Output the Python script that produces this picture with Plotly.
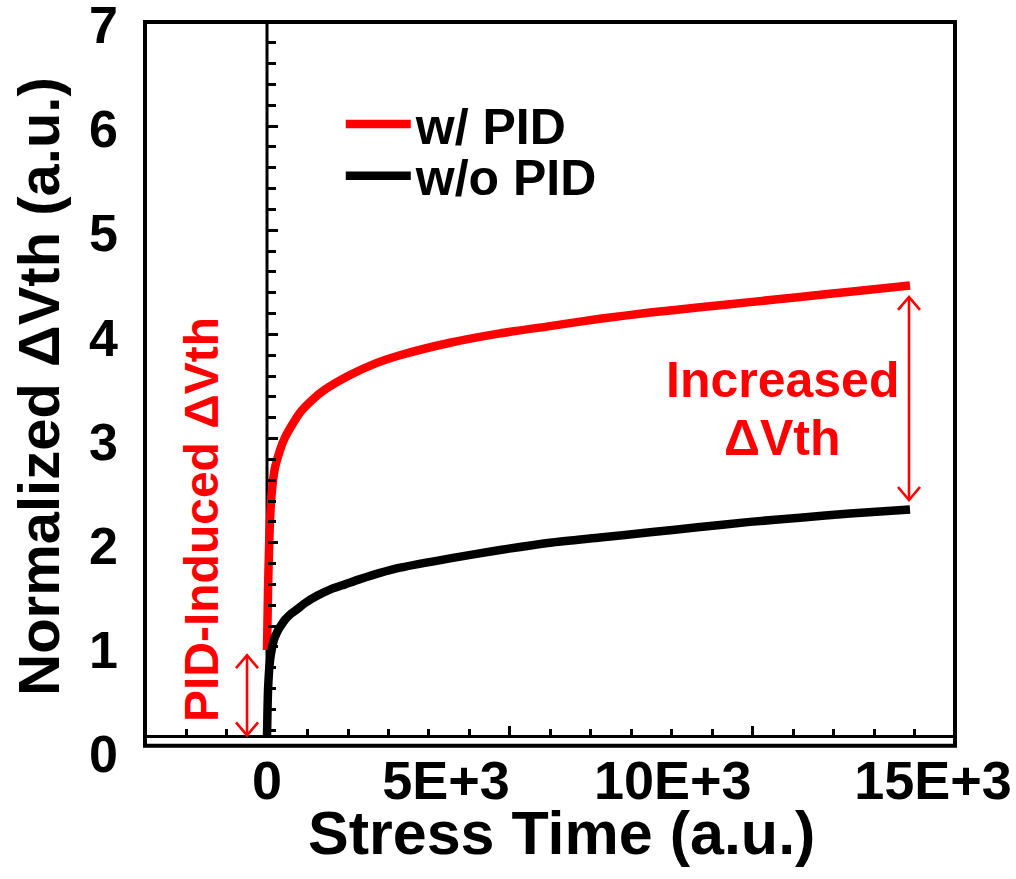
import plotly.graph_objects as go

# ---------------- data ----------------
SERIES_NAMES = ["w/ PID", "w/o PID"]
X_RED = [0, 23, 45, 68, 113, 180, 293, 405, 563, 743, 1014, 1306, 1869, 2432, 2995,
         4122, 5248, 6374, 7500, 8626, 9752, 10878, 12005, 13131, 14482]
Y_RED = [0.97, 1.55, 1.93, 2.22, 2.51, 2.72, 2.89, 3.01, 3.13, 3.25, 3.37, 3.47, 3.61, 3.72, 3.80,
         3.92, 4.01, 4.08, 4.15, 4.21, 4.26, 4.31, 4.36, 4.41, 4.47]
X_BLACK = [0, 11, 23, 45, 68, 113, 158, 225, 293, 405, 518, 676, 856, 1126, 1419, 1757, 2095,
           2545, 2995, 4122, 5248, 6374, 7500, 8626, 9752, 10878, 12005, 13131, 14482]
Y_BLACK = [0.14, 0.39, 0.59, 0.76, 0.87, 0.99, 1.07, 1.14, 1.19, 1.26, 1.31, 1.36, 1.42, 1.49, 1.55,
           1.60, 1.65, 1.71, 1.76, 1.85, 1.93, 2.00, 2.05, 2.10, 2.15, 2.20, 2.24, 2.28, 2.32]

Y_TICKS = [0, 1, 2, 3, 4, 5, 6, 7]
X_TICK_TEXT = ["0", "5E+3", "10E+3", "15E+3"]
X_TICK_POS = [0, 4030, 9140, 15000]   # where the reference prints its labels

X_RANGE = [-2748, 15495]
Y_RANGE = [0, 7]
FRAME_BOTTOM = 0.05      # y value of the frame's bottom edge
BASELINE = 0.14          # y value of the inner horizontal axis line
X_MINOR = 912
X_MAJOR = 5472
Y_MINOR = 0.2

# annotation arrows (data coords)
ARROW_R = dict(x=14459, y0=2.41, y1=4.36)
ARROW_L = dict(x=-450, y0=0.15, y1=0.92)

RED = "#FF0000"
FONT = "Liberation Sans, Arial, sans-serif"

fig = go.Figure()
fig.add_trace(go.Scatter(x=X_RED, y=Y_RED, mode="lines", name=SERIES_NAMES[0],
                         line=dict(color=RED, width=8.5, shape="spline", smoothing=0.6),
                         legend="legend"))
fig.add_trace(go.Scatter(x=X_BLACK, y=Y_BLACK, mode="lines", name=SERIES_NAMES[1],
                         line=dict(color="black", width=8.5, shape="spline", smoothing=0.6),
                         legend="legend2"))
# empty traces so the inner (crossing) axes get drawn
fig.add_trace(go.Scatter(x=[None], y=[None], xaxis="x2", yaxis="y", showlegend=False, hoverinfo="skip"))
fig.add_trace(go.Scatter(x=[None], y=[None], xaxis="x", yaxis="y2", showlegend=False, hoverinfo="skip"))

shapes = []
# outer frame
shapes.append(dict(type="rect", xref="paper", yref="paper", x0=0, x1=1,
                   y0=FRAME_BOTTOM / Y_RANGE[1], y1=1,
                   line=dict(color="black", width=4), layer="above"))
# inner vertical axis line at x = 0
shapes.append(dict(type="line", xref="x", yref="y", x0=0, x1=0, y0=BASELINE, y1=Y_RANGE[1],
                   line=dict(color="black", width=3), layer="below"))

def arrow(a):
    out = [dict(type="line", xref="x", yref="y", x0=a["x"], x1=a["x"], y0=a["y0"], y1=a["y1"],
                line=dict(color=RED, width=2.6))]
    for yy, d in ((a["y1"], 1), (a["y0"], -1)):
        out.append(dict(type="path", xref="x", yref="y", xsizemode="pixel", ysizemode="pixel",
                        xanchor=a["x"], yanchor=yy,
                        path=f"M-11,{-13 * d} L0,0 L11,{-13 * d}",
                        line=dict(color=RED, width=2.6)))
    return out

shapes += arrow(ARROW_R) + arrow(ARROW_L)

annotations = [
    dict(text="PID-Induced ΔVth", x=-1480, y=2.22, xref="x", yref="y", showarrow=False,
         textangle=-90, font=dict(family=FONT, size=48, color=RED, weight="bold")),
    dict(text="Increased", x=11599, y=3.56, xref="x", yref="y", showarrow=False,
         font=dict(family=FONT, size=50, color=RED, weight="bold")),
    dict(text="ΔVth", x=11599, y=3.005, xref="x", yref="y", showarrow=False,
         font=dict(family=FONT, size=50, color=RED, weight="bold")),
    dict(text="Stress Time (a.u.)", x=0.5136, y=-0.112, xref="paper", yref="paper",
         showarrow=False, xanchor="center", yanchor="middle",
         font=dict(family=FONT, size=61, color="black", weight="bold")),
]

legend_common = dict(xanchor="left", yanchor="middle", bgcolor="rgba(0,0,0,0)",
                     font=dict(family=FONT, size=50, weight="bold"), itemwidth=65)

fig.update_layout(
    width=1016, height=879, autosize=False,
    margin=dict(l=145, r=61, t=22, b=128, autoexpand=False),
    paper_bgcolor="white", plot_bgcolor="white",
    font=dict(family=FONT, color="black", weight="bold"),
    shapes=shapes, annotations=annotations,
    showlegend=True,
    legend=dict(x=0.2417, y=0.860, **legend_common),
    legend2=dict(x=0.2417, y=0.789, **legend_common),
    xaxis=dict(range=X_RANGE, showline=False, showgrid=False, zeroline=False, ticks="",
               tickmode="array", tickvals=X_TICK_POS, ticktext=X_TICK_TEXT,
               ticklabelstandoff=-7, ticklabeloverflow="allow", automargin=False,
               tickfont=dict(family=FONT, size=54, weight="bold")),
    yaxis=dict(range=Y_RANGE, showline=False, showgrid=False, zeroline=False, ticks="",
               tickmode="array", tickvals=Y_TICKS, ticklabelstandoff=26, ticklabelshift=3,
               ticklabeloverflow="allow", automargin=False,
               tickfont=dict(family=FONT, size=52, weight="bold"),
               title=dict(text="Normalized ΔVth (a.u.)", standoff=10,
                          font=dict(family=FONT, size=58, weight="bold"))),
    xaxis2=dict(overlaying="x", anchor="free", position=BASELINE / Y_RANGE[1], range=X_RANGE,
                showline=True, linecolor="black", linewidth=3, showgrid=False, zeroline=False,
                showticklabels=False, ticks="inside", tick0=0, dtick=X_MAJOR,
                ticklen=9, tickwidth=2.5, tickcolor="black",
                minor=dict(ticks="inside", dtick=X_MINOR, tick0=0, ticklen=6, tickwidth=2.5,
                           tickcolor="black", showgrid=False)),
    yaxis2=dict(overlaying="y", anchor="free", position=(0 - X_RANGE[0]) / (X_RANGE[1] - X_RANGE[0]),
                side="left", range=Y_RANGE, showline=False, showgrid=False, zeroline=False,
                showticklabels=False, ticks="inside", tickmode="array", tickvals=Y_TICKS[1:],
                ticklen=10, tickwidth=2.5, tickcolor="black",
                minor=dict(ticks="inside", tickmode="array",
                           tickvals=[round(k * Y_MINOR, 2) for k in range(1, 35) if k % 5],
                           ticklen=7.5, tickwidth=2.5, tickcolor="black", showgrid=False)),
)

fig.write_html("out.html", config={"displayModeBar": False},
               post_script="document.body.style.margin='0px';")
